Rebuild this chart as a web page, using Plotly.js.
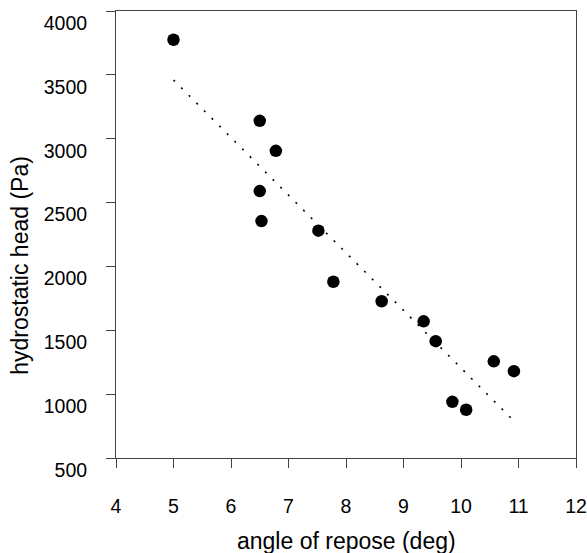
<!DOCTYPE html>
<html>
<head>
<meta charset="utf-8">
<script src="https://cdn.plot.ly/plotly-3.0.1.min.js"></script>
<style>html,body{margin:0;padding:0;background:#fff;}#chart{width:587px;height:553px;}</style>
</head>
<body>
<div id="chart"></div>
<script>
// Measured points (angle of repose in deg, hydrostatic head in Pa)
const angle = [5.0, 6.5, 6.78, 6.5, 6.53, 7.52, 7.78, 8.62, 9.35, 9.56, 10.57, 10.92, 9.85, 10.09];
const head  = [3775, 3140, 2905, 2590, 2355, 2280, 1880, 1727, 1570, 1415, 1257, 1180, 940, 878];
// Fitted trend line end points
const fitAngle = [5.0, 10.92];
const fitHead  = [3460, 790];
// Tick values
const xTicks = [4, 5, 6, 7, 8, 9, 10, 11, 12];
const yTicks = [500, 1000, 1500, 2000, 2500, 3000, 3500, 4000];
const xTitle = 'angle of repose (deg)';
const yTitle = 'hydrostatic head (Pa)';

const font = {family: 'Liberation Sans, Arial, Helvetica, sans-serif', color: '#000'};

const data = [
  {
    x: fitAngle, y: fitHead, type: 'scatter', mode: 'lines',
    line: {color: '#000', width: 1.6, dash: '2px,8.8px'},
    hoverinfo: 'skip', showlegend: false
  },
  {
    x: angle, y: head, type: 'scatter', mode: 'markers',
    marker: {color: '#000', size: 12.5, line: {width: 0}},
    showlegend: false
  }
];

const layout = {
  width: 587, height: 553,
  margin: {l: 116, r: 11, t: 11, b: 95, pad: 0},
  paper_bgcolor: '#fff', plot_bgcolor: '#fff',
  font: Object.assign({size: 19}, font),
  xaxis: {
    range: [4, 12], tickvals: xTicks, ticktext: xTicks.map(String),
    ticks: 'outside', ticklen: 9, tickwidth: 1, tickcolor: '#444',
    showline: true, linecolor: '#444', linewidth: 1, mirror: true,
    showgrid: false, zeroline: false,
    ticklabelstandoff: 22, ticklabeloverflow: 'allow',
    tickfont: Object.assign({size: 19.5}, font)
  },
  yaxis: {
    range: [500, 4000], tickvals: yTicks, ticktext: yTicks.map(String),
    ticks: 'outside', ticklen: 9, tickwidth: 1, tickcolor: '#444',
    showline: true, linecolor: '#444', linewidth: 1, mirror: true,
    showgrid: false, zeroline: false,
    ticklabelstandoff: 15, ticklabelshift: 12, ticklabeloverflow: 'allow',
    tickfont: Object.assign({size: 19.5}, font)
  },
  annotations: [
    {text: xTitle, xref: 'paper', yref: 'paper', x: 0.5, y: -0.185,
     xanchor: 'center', yanchor: 'middle', showarrow: false,
     font: Object.assign({size: 23}, font)},
    {text: yTitle, xref: 'paper', yref: 'paper', x: -0.209, y: 0.432,
     xanchor: 'center', yanchor: 'middle', textangle: -90, showarrow: false,
     font: Object.assign({size: 23}, font)}
  ]
};

Plotly.newPlot('chart', data, layout, {staticPlot: true, displayModeBar: false});
</script>
</body>
</html>
